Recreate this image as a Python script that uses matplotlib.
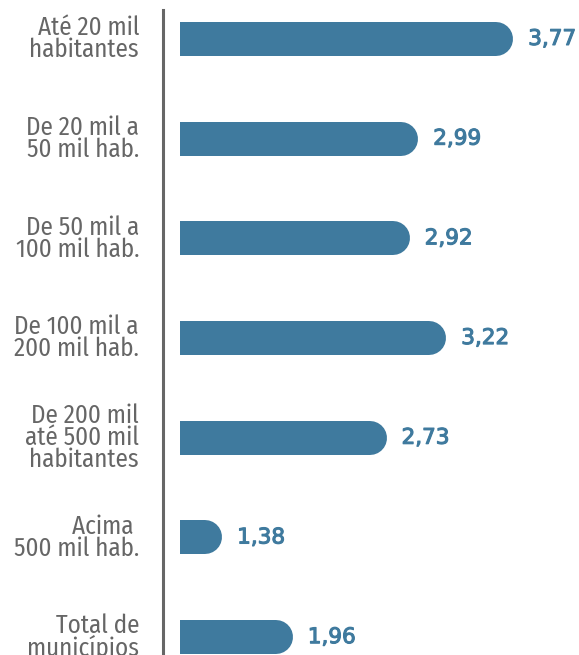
import matplotlib
matplotlib.use("Agg")
import matplotlib.pyplot as plt
from matplotlib import font_manager
import matplotlib.patheffects as pe

categories = ["Até 20 mil\nhabitantes", "De 20 mil a\n50 mil hab.", "De 50 mil a\n100 mil hab.",
              "De 100 mil a\n200 mil hab.", "De 200 mil\naté 500 mil\nhabitantes",
              "Acima \n500 mil hab.", "Total de\nmunicípios"]
values = [3.77, 2.99, 2.92, 3.22, 2.73, 1.38, 1.96]
value_labels = ["3,77", "2,99", "2,92", "3,22", "2,73", "1,38", "1,96"]

BAR_COLOR = "#3f7a9e"
TEXT_GREY = "#666666"

names = {f.name for f in font_manager.fontManager.ttflist}
prefs = ["Fira Sans Condensed", "Encode Sans Condensed", "Roboto Condensed",
         "PT Sans Narrow", "Archivo Narrow", "Asap Condensed", "Barlow Semi Condensed",
         "Liberation Sans Narrow", "DejaVu Sans"]
label_font = next(p for p in prefs if p in names)

W, H = 579, 655
DPI = 100
fig = plt.figure(figsize=(W / DPI, H / DPI), dpi=DPI)
ax = fig.add_axes([180 / W, -0.0489, (579 - 180) / W, 1.0336])

ax.set_xlim(1.034, 4.31)
ax.set_ylim(6.5, -0.29)

bar_px = 34
lw_pt = bar_px * 72 / DPI
px_per_unit = ax.transData.transform((1, 0))[0] - ax.transData.transform((0, 0))[0]
r_data = (bar_px / 2) / px_per_unit
ax_w_px = ax.transAxes.transform((1, 0))[0] - ax.transAxes.transform((0, 0))[0]

ypos = list(range(len(values)))
for y, v, lab, cat in zip(ypos, values, value_labels, categories):
    ax.plot([0, v - r_data], [y, y], color=BAR_COLOR, lw=lw_pt,
            solid_capstyle="round", clip_on=True)
    ax.text(v + 15 / px_per_unit, y, lab, va="center", ha="left",
            fontsize=15.5, fontweight="normal", color=BAR_COLOR,
            family="DejaVu Sans", clip_on=False,
            path_effects=[pe.withStroke(linewidth=0.8, foreground=BAR_COLOR)])
    ax.text(-41 / ax_w_px, y, cat, transform=ax.get_yaxis_transform(),
            ha="right", va="center", multialignment="right",
            fontsize=18, fontweight="normal", color=TEXT_GREY, family=label_font,
            linespacing=0.85, clip_on=False)

ax.set_yticks([])
ax.set_xticks([])
for s in ["top", "right", "bottom"]:
    ax.spines[s].set_visible(False)
ax.spines["left"].set_position(("outward", 17 * 72 / DPI))
ax.spines["left"].set_color("#666666")
ax.spines["left"].set_linewidth(2.2)
ax.spines["left"].set_bounds(-0.29, 6.5)
ax.patch.set_visible(False)

fig.savefig("out.png", dpi=DPI)
